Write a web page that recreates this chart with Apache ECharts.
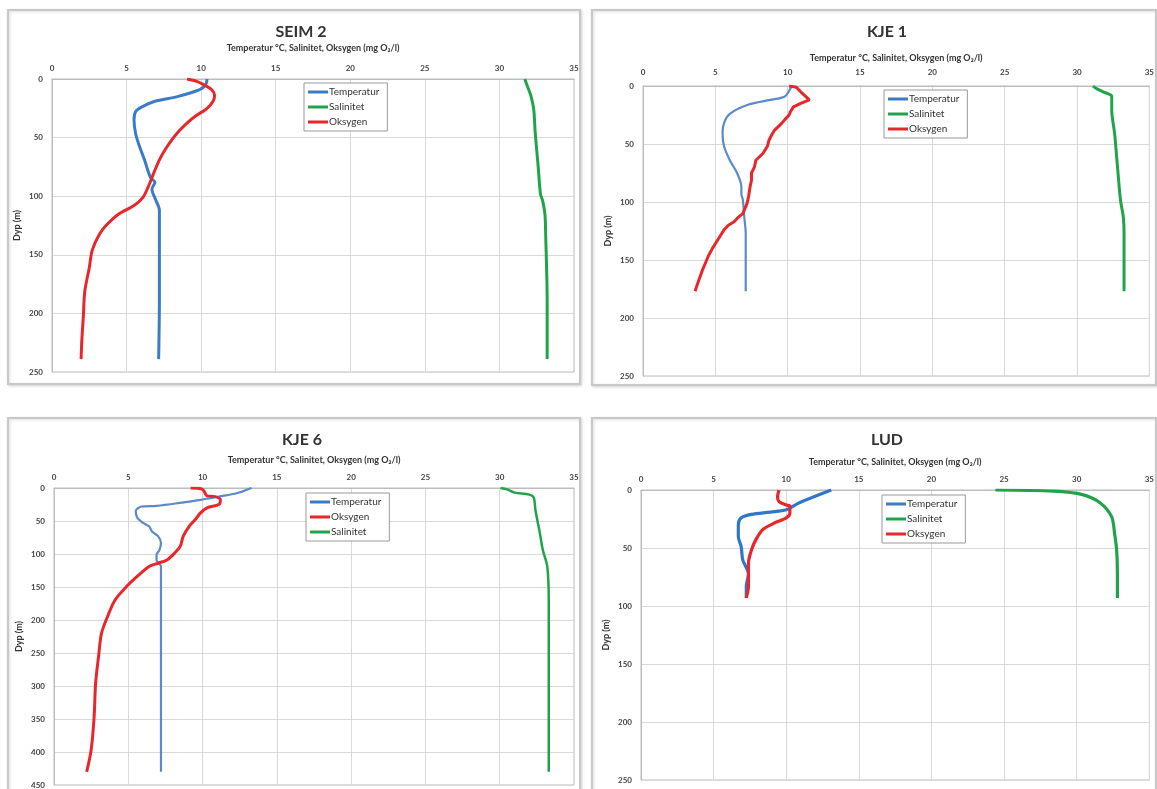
<!DOCTYPE html>
<html><head><meta charset="utf-8">
<script src="https://cdn.jsdelivr.net/npm/echarts@6/dist/echarts.min.js"></script>
<style>html,body{margin:0;padding:0;background:#fff}#c{width:1157px;height:789px}</style>
</head><body><div id="c"></div>
<script>
// ---- Data: [value, depth(m)] ----
const stations = ['SEIM 2', 'KJE 1', 'KJE 6', 'LUD'];
const xTicks = [0, 5, 10, 15, 20, 25, 30, 35];
const seim2Temp = [[10.4,0],[10.3,5],[9.9,9],[8.4,15],[6.9,19],[6.0,24],[5.6,28],[5.5,35],[5.6,46],[5.8,55],[6.2,69],[6.6,84],[6.9,88],[6.7,94],[6.95,103],[7.2,112],[7.2,132],[7.2,189],[7.15,239]];
const seim2Oxy = [[9.05,0],[9.7,2],[10.2,5],[10.7,9],[10.9,14],[10.8,19],[10.4,25],[9.7,31],[9.2,36],[8.4,46],[7.7,58],[7.2,69],[6.8,81],[6.45,92],[6.1,101],[5.5,108],[4.5,115],[3.7,124],[3.2,132],[2.7,146],[2.5,161],[2.2,181],[2.1,203],[2.0,223],[1.95,239]];
const seim2Sal = [[31.7,0],[31.9,7],[32.1,14],[32.3,26],[32.4,46],[32.6,75],[32.75,98],[32.9,104],[33.05,115],[33.1,132],[33.2,189],[33.2,239]];
const kje1Temp = [[10.3,0],[10.2,2],[9.8,9],[8.8,12],[7.3,16],[6.0,24],[5.6,32],[5.5,41],[5.6,52],[6.0,64],[6.5,75],[6.8,87],[6.8,93],[6.9,98],[7.0,113],[7.1,127],[7.1,177]];
const kje1Oxy = [[10.1,0],[10.6,1],[10.9,5],[11.5,12],[10.9,15],[10.4,18],[10.2,22],[10.1,25],[9.8,29],[9.6,32],[9.1,38],[8.9,42],[8.7,47],[8.6,52],[8.3,58],[7.8,64],[7.7,70],[7.5,75],[7.5,81],[7.4,87],[7.3,95],[7.2,101],[6.9,110],[6.6,113],[6.3,117],[5.9,120],[5.6,124],[5.3,130],[5.0,136],[4.8,140],[4.5,147],[4.3,153],[4.1,159],[3.9,166],[3.7,173],[3.6,177]];
const kje1Sal = [[31.1,0],[31.3,2],[31.8,5],[32.4,9],[32.4,21],[32.6,41],[32.8,70],[33.0,98],[33.2,113],[33.25,127],[33.25,177]];
const kje6Temp = [[13.3,0],[12.3,8],[11.1,13],[9.85,18],[8.35,23],[6.9,27],[5.9,28],[5.5,35],[5.6,45],[6.0,53],[6.4,58],[6.6,66],[7.0,73],[7.2,83],[7.1,94],[6.9,101],[6.9,109],[7.2,119],[7.2,170],[7.2,271],[7.2,430]];
const kje6Oxy = [[9.2,0],[10.0,2],[10.3,12],[10.85,13],[11.2,18],[11.1,25],[10.3,30],[9.85,38],[9.5,48],[9.1,58],[8.7,73],[8.5,88],[8.1,99],[7.6,109],[7.0,114],[6.4,119],[5.6,134],[4.9,149],[4.1,170],[3.6,195],[3.2,220],[3.0,255],[2.8,296],[2.7,347],[2.5,397],[2.2,430]];
const kje6Sal = [[30.05,0],[30.5,2],[31.0,7],[32.0,10],[32.3,15],[32.4,33],[32.7,68],[32.9,94],[33.2,119],[33.3,170],[33.3,271],[33.3,430]];
const ludTemp = [[13.1,0],[10.9,11],[10.0,17],[8.9,19],[7.6,21],[6.9,24],[6.7,30],[6.7,40],[6.9,49],[7.0,60],[7.25,67],[7.4,72],[7.25,83],[7.25,93]];
const ludOxy = [[9.5,0],[9.4,6],[9.5,10],[10.0,13],[10.25,14],[10.25,20],[10.0,24],[9.1,29],[8.4,34],[7.9,43],[7.6,52],[7.4,63],[7.4,72],[7.4,83],[7.25,93]];
const ludSal = [[24.4,0],[28.4,1],[30.4,4],[31.6,11],[32.4,23],[32.6,37],[32.75,52],[32.8,72],[32.8,93]];
const yMax = [250, 250, 450, 250];
const legendOrder = [['Temperatur','Salinitet','Oksygen'],['Temperatur','Salinitet','Oksygen'],['Temperatur','Oksygen','Salinitet'],['Temperatur','Salinitet','Oksygen']];
const seriesData = [
  {Temperatur: seim2Temp, Salinitet: seim2Sal, Oksygen: seim2Oxy},
  {Temperatur: kje1Temp, Salinitet: kje1Sal, Oksygen: kje1Oxy},
  {Temperatur: kje6Temp, Salinitet: kje6Sal, Oksygen: kje6Oxy},
  {Temperatur: ludTemp, Salinitet: ludSal, Oksygen: ludOxy}
];
const xName = 'Temperatur °C, Salinitet, Oksygen (mg O₂/l)';

// ---- Layout / style ----
const FONT = 'Lato';
const colors = {Temperatur: '#3b7cc4', Salinitet: '#20a34b', Oksygen: '#e8262b'};
const lineWidths = [
  {Temperatur: 3, Salinitet: 3, Oksygen: 3},
  {Temperatur: 2.2, Salinitet: 3, Oksygen: 3},
  {Temperatur: 2.2, Salinitet: 2.5, Oksygen: 3},
  {Temperatur: 3.2, Salinitet: 3.2, Oksygen: 3.2}
];
const tempColors = ['#3b7cc4', '#5a8bc8', '#5a8bc8', '#2f78c8'];
const grids = [
  {left: 52, top: 79, width: 522, height: 293},
  {left: 643, top: 86, width: 507, height: 290},
  {left: 54, top: 488, width: 520, height: 297},
  {left: 641, top: 490, width: 512, height: 290}
];
const nameGaps = [26, 23, 23, 23];
const labelMargins = [7, 10, 7, 7];
const panels = [
  {x: 8, y: 10, w: 572, h: 374},
  {x: 592, y: 10, w: 564, h: 375},
  {x: 8, y: 418, w: 572, h: 380},
  {x: 592, y: 418, w: 564, h: 380}
];
const titlePos = [[296, 19], [882, 19], [297, 427], [882, 427]];
const legendPos = [[304, 83], [884, 90], [306, 493], [882, 495]];

const option = {
  animation: false,
  backgroundColor: '#fff',
  title: stations.map((s, i) => ({
    text: s, left: titlePos[i][0], top: titlePos[i][1], textAlign: 'center',
    textStyle: {fontFamily: FONT, fontSize: 16, fontWeight: 'bold', color: '#333'}
  })),
  grid: grids.map(g => Object.assign({show: true, borderColor: '#bdbdbd', borderWidth: 1}, g)),
  legend: legendOrder.map((names, i) => ({
    data: names, orient: 'vertical', left: legendPos[i][0], top: legendPos[i][1],
    icon: 'rect', itemWidth: 20, itemHeight: 3, itemGap: 5,
    padding: [4, 8, 4, 4], borderColor: '#999', borderWidth: 1, backgroundColor: '#fff',
    textStyle: {fontFamily: FONT, fontSize: 10, color: '#333', padding: [0, 0, 0, -4]}
  })),
  xAxis: grids.map((g, i) => ({
    gridIndex: i, type: 'value', position: 'top', min: 0, max: 35, interval: 5,
    name: xName, nameLocation: 'middle', nameGap: nameGaps[i],
    nameTextStyle: {fontFamily: FONT, fontSize: 9, fontWeight: 'bold', color: '#333'},
    axisLine: {show: true, lineStyle: {color: '#bdbdbd'}},
    axisTick: {show: false},
    axisLabel: {fontFamily: FONT, fontSize: 8, fontWeight: 'bold', color: '#444', margin: labelMargins[i]},
    splitLine: {show: true, lineStyle: {color: '#d9d9d9'}}
  })),
  yAxis: grids.map((g, i) => ({
    gridIndex: i, type: 'value', inverse: true, min: 0, max: yMax[i], interval: 50,
    name: 'Dyp (m)', nameLocation: 'middle', nameGap: 30, nameRotate: 90,
    nameTextStyle: {fontFamily: FONT, fontSize: 9, fontWeight: 'bold', color: '#333'},
    axisLine: {show: true, lineStyle: {color: '#bdbdbd'}},
    axisTick: {show: false},
    axisLabel: {fontFamily: FONT, fontSize: 8, fontWeight: 'bold', color: '#444', margin: 9},
    splitLine: {show: true, lineStyle: {color: '#d9d9d9'}}
  })),
  series: [],
  graphic: panels.map(p => ({
    type: 'rect', z: -10, shape: {x: p.x, y: p.y, width: p.w, height: p.h},
    style: {fill: '#fff', stroke: '#c8c8c8', lineWidth: 2,
      shadowColor: 'rgba(0,0,0,0.15)', shadowBlur: 3, shadowOffsetX: 1, shadowOffsetY: 1}
  }))
};
seriesData.forEach((sd, i) => {
  legendOrder[i].forEach(name => {
    const c = name === 'Temperatur' ? tempColors[i] : colors[name];
    const jagged = (i === 1 && name === 'Oksygen');
    option.series.push({
      name: name, type: 'line', xAxisIndex: i, yAxisIndex: i,
      data: sd[name], showSymbol: false, smooth: jagged ? false : 0.3,
      lineStyle: {width: lineWidths[i][name], color: c}, itemStyle: {color: c}
    });
  });
});
const chart = echarts.init(document.getElementById('c'), null, {renderer: 'canvas'});
chart.setOption(option);
</script></body></html>
